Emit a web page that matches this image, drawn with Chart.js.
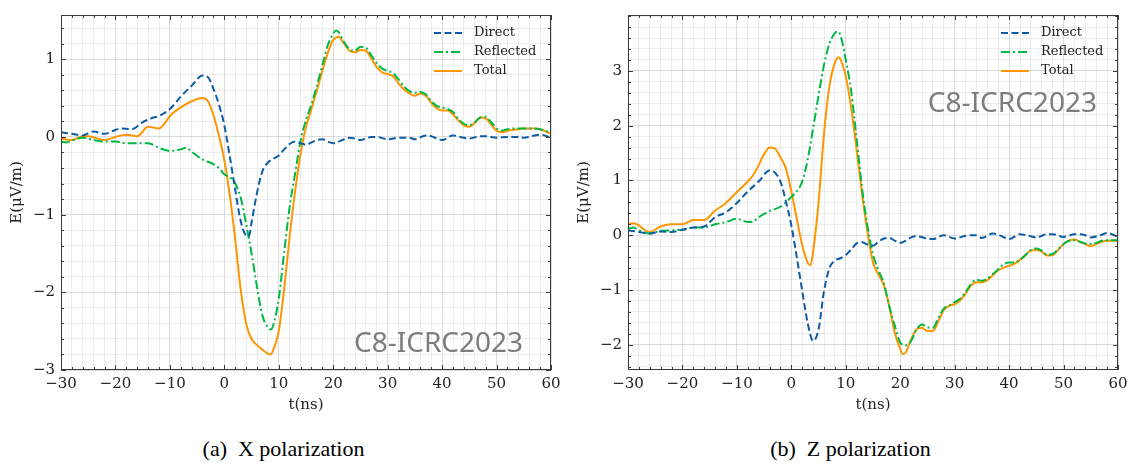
<!DOCTYPE html>
<html>
<head>
<meta charset="utf-8">
<script src="https://cdn.jsdelivr.net/npm/chart.js@4.4.1/dist/chart.umd.min.js"></script>
<style>
  html, body { margin: 0; padding: 0; background: #fff; }
  #page { position: relative; width: 1134px; height: 465px; overflow: hidden; }
  .panel { position: absolute; top: 0; width: 567px; height: 465px; }
  .panel canvas { position: absolute; left: 0; top: 0; }
  .caption { position: absolute; left: 0; top: 436px; width: 567px; text-align: center;
             font-family: "Liberation Serif", serif; font-size: 22px; line-height: 26px;
             color: #000; white-space: pre; }
</style>
</head>
<body>
<div id="page">
  <div class="panel" style="left:0">
    <canvas id="chartX" width="567" height="420"></canvas>
    <div class="caption">(a)  X polarization</div>
  </div>
  <div class="panel" style="left:567px">
    <canvas id="chartZ" width="567" height="420"></canvas>
    <div class="caption">(b)  Z polarization</div>
  </div>
</div>
<script>
// tick labels
var xMajor = [-30, -20, -10, 0, 10, 20, 30, 40, 50, 60];
var xMinorStep = 2;
var yMajorX = [-3, -2, -1, 0, 1];
var yMajorZ = [-2, -1, 0, 1, 2, 3];
var yMinorStep = 0.2;

var seriesNames = ["Direct", "Reflected", "Total"];
var seriesColors = ["#0C5DA5", "#00B945", "#FF9500"];
var seriesDash = [[7, 3.5], [9, 3, 2, 3], []];

// X polarization, E in uV/m against t in ns
var tDirX = [-30,-28,-26,-24,-22,-20,-19,-17,-15,-13,-12,-10,-8,-6,-4,-3,-2,-1,0,1,2,3,4,4.5,5,6,7,8,9,10,11,12,13,14,15,16,17,18,19,20,21,22,23,24,25,26,27,28,30,32,34,35,37,38,40,42,44,45,47,48,50,52,54,55,57,58,60];
var eDirX = [0.06,0.04,0.02,0.07,0.04,0.09,0.11,0.10,0.19,0.25,0.27,0.36,0.52,0.66,0.79,0.77,0.62,0.42,0.15,-0.25,-0.68,-1.08,-1.27,-1.28,-1.10,-0.72,-0.44,-0.33,-0.28,-0.24,-0.16,-0.09,-0.06,-0.08,-0.10,-0.07,-0.04,-0.03,-0.06,-0.08,-0.06,-0.03,-0.01,-0.02,-0.04,-0.02,0.00,0.00,-0.03,-0.01,-0.01,-0.03,0.02,0.01,-0.04,0.02,-0.01,-0.02,0.01,0.01,-0.01,0.00,0.00,-0.01,0.02,0.03,-0.01];

var tRefX = [-30,-29,-27,-26,-24,-22,-20,-18,-16,-14,-12,-10,-8,-7,-6,-4,-2,-1,0,1,2,3,4,5,6,7,8,8.5,9,10,11,12,13,14,15,16,17,18,19,20,20.5,21,22,23,24,25,26,27,28,29,30,31,32,33,34,35,36,37,38,39,40,41,42,43,44,45,46,47,48,49,50,51,52,54,55,57,58,60];
var eRefX = [-0.06,-0.07,-0.02,-0.01,-0.04,-0.06,-0.06,-0.08,-0.08,-0.08,-0.14,-0.18,-0.16,-0.14,-0.19,-0.29,-0.35,-0.40,-0.48,-0.52,-0.60,-0.78,-1.12,-1.50,-1.93,-2.30,-2.45,-2.48,-2.42,-2.08,-1.48,-0.90,-0.47,-0.05,0.22,0.42,0.66,0.92,1.18,1.33,1.37,1.35,1.22,1.13,1.11,1.16,1.15,1.05,0.95,0.88,0.85,0.82,0.74,0.65,0.59,0.57,0.58,0.55,0.46,0.40,0.38,0.36,0.32,0.23,0.17,0.15,0.19,0.25,0.26,0.19,0.11,0.08,0.10,0.11,0.11,0.11,0.10,0.05];

var tTotX = [-30,-28,-26,-25,-22,-20,-18,-16,-14,-12,-11,-10,-8,-6,-4,-3,-2,-1,0,1,2,3,4,5,6,7,8,8.5,9,10,11,12,13,14,15,16,17,18,19,20,21,22,23,24,25,26,27,28,29,30,31,32,33,34,35,36,37,38,39,40,41,42,43,44,45,46,47,48,49,50,51,52,54,55,57,58,60];
var eTotX = [-0.02,-0.04,0.01,0.01,-0.04,0.00,0.03,0.01,0.13,0.11,0.17,0.27,0.38,0.46,0.50,0.46,0.28,0.02,-0.30,-0.75,-1.32,-1.96,-2.40,-2.60,-2.68,-2.74,-2.79,-2.80,-2.74,-2.50,-1.95,-1.28,-0.70,-0.22,0.13,0.36,0.60,0.85,1.08,1.25,1.29,1.20,1.11,1.09,1.12,1.11,1.01,0.90,0.83,0.81,0.78,0.69,0.61,0.56,0.53,0.56,0.53,0.44,0.37,0.34,0.34,0.29,0.21,0.15,0.13,0.18,0.25,0.24,0.16,0.08,0.06,0.08,0.10,0.11,0.11,0.10,0.04];

// Z polarization
var tDirZ = [-30,-28,-26,-24,-22,-20,-18,-16,-14,-12,-10,-8,-6,-4,-3,-2,-1,0,1,2,3,4,5,6,7,8,9,10,11,12,13,14,15,16,17,18,19,20,21,22,23,25,26,28,30,32,34,35,37,38,40,42,44,45,47,48,50,52,54,55,57,58,60];
var eDirZ = [0.09,0.06,0.03,0.07,0.06,0.10,0.14,0.16,0.33,0.42,0.59,0.80,0.98,1.18,1.14,0.98,0.62,0.18,-0.40,-1.02,-1.60,-1.93,-1.72,-1.02,-0.60,-0.46,-0.42,-0.36,-0.26,-0.15,-0.13,-0.17,-0.19,-0.12,-0.06,-0.05,-0.10,-0.14,-0.10,-0.04,-0.02,-0.06,-0.07,0.00,-0.06,-0.01,0.00,-0.05,0.03,0.01,-0.07,0.02,-0.02,-0.04,0.02,0.02,-0.03,0.02,0.00,-0.04,0.01,0.04,-0.03];

var tRefZ = [-30,-29,-28,-26,-24,-22,-20,-18,-16,-14,-12,-10,-9,-8,-7,-6,-4,-2,-1,0,1,2,3,4,5,6,7,8,8.5,9,10,11,12,13,14,15,16,17,18,19,20,21,22,23,24,25,26,27,28,29,30,31,32,33,34,35,36,37,38,39,40,41,42,43,44,45,46,47,48,49,50,51,52,53,54,55,56,57,58,60];
var eRefZ = [0.12,0.14,0.09,0.03,0.08,0.09,0.10,0.14,0.14,0.20,0.24,0.30,0.27,0.24,0.25,0.33,0.44,0.52,0.60,0.70,0.80,0.98,1.38,1.95,2.55,3.11,3.50,3.69,3.72,3.66,3.20,2.62,1.75,0.85,0.15,-0.35,-0.64,-0.88,-1.30,-1.65,-1.96,-2.01,-1.93,-1.72,-1.63,-1.68,-1.69,-1.51,-1.34,-1.28,-1.22,-1.16,-1.04,-0.89,-0.81,-0.83,-0.79,-0.71,-0.62,-0.53,-0.50,-0.50,-0.45,-0.36,-0.27,-0.24,-0.28,-0.36,-0.34,-0.26,-0.16,-0.10,-0.09,-0.12,-0.15,-0.16,-0.14,-0.10,-0.09,-0.09];

var tTotZ = [-30,-29,-28,-27,-26,-24,-22,-20,-18,-16,-14,-12,-10,-8,-7,-6,-5,-4,-3,-2,-1,0,1,2,3,3.5,4,5,6,7,8,8.7,9,10,11,12,13,14,15,16,17,18,19,20,20.5,21,22,23,24,25,26,27,28,29,30,31,32,33,34,35,36,37,38,39,40,41,42,43,44,45,46,47,48,49,50,51,52,53,54,55,56,57,58,60];
var eTotZ = [0.20,0.22,0.18,0.10,0.06,0.16,0.20,0.20,0.28,0.28,0.45,0.59,0.79,0.98,1.10,1.28,1.48,1.60,1.58,1.42,1.22,0.80,0.30,-0.18,-0.50,-0.55,-0.30,0.60,1.85,2.72,3.15,3.25,3.22,2.90,2.32,1.55,0.75,0.05,-0.50,-0.72,-0.92,-1.30,-1.78,-2.08,-2.17,-2.14,-1.90,-1.72,-1.69,-1.75,-1.75,-1.57,-1.37,-1.29,-1.26,-1.19,-1.07,-0.92,-0.86,-0.86,-0.82,-0.73,-0.64,-0.59,-0.56,-0.52,-0.45,-0.36,-0.28,-0.27,-0.30,-0.37,-0.36,-0.27,-0.16,-0.10,-0.08,-0.12,-0.16,-0.20,-0.16,-0.12,-0.10,-0.10];

var tickFont = {family: "DejaVu Serif", size: 15};

function fmt(v) {
	return v < 0 ? "\u2212" + Math.abs(v) : String(v);
}

function isMajor(list, v) {
	for (var i = 0; i < list.length; i++) {
		if (Math.abs(list[i] - v) < 1e-6) return true;
	}
	return false;
}

function toPoints(t, v) {
	return t.map(function (x, i) { return {x: x, y: v[i]}; });
}

// minor steps, both axes, all from the scale's own range
function stepTicks(scale, step) {
	var ticks = [];
	var v = Math.ceil(scale.min / step - 1e-9) * step;
	for (; v <= scale.max + 1e-9; v += step) {
		ticks.push({value: Math.round(v * 1000) / 1000});
	}
	scale.ticks = ticks;
}

// frame, inward ticks on four sides, legend and watermark
var decorPlugin = {
	id: "decor",
	afterDraw: function (chart, args, opts) {
		var ctx = chart.ctx, a = chart.chartArea;
		var xs = chart.scales.x, ys = chart.scales.y;
		ctx.save();
		ctx.strokeStyle = "#3a3a3a";
		ctx.lineWidth = 1;
		ctx.beginPath();
		xs.ticks.forEach(function (t) {
			var px = Math.round(xs.getPixelForValue(t.value)) + 0.5;
			var len = isMajor(xMajor, t.value) ? 5 : 3;
			ctx.moveTo(px, a.bottom); ctx.lineTo(px, a.bottom - len);
			ctx.moveTo(px, a.top); ctx.lineTo(px, a.top + len);
		});
		ys.ticks.forEach(function (t) {
			var py = Math.round(ys.getPixelForValue(t.value)) + 0.5;
			var len = isMajor(opts.yMajor, t.value) ? 5 : 3;
			ctx.moveTo(a.left, py); ctx.lineTo(a.left + len, py);
			ctx.moveTo(a.right, py); ctx.lineTo(a.right - len, py);
		});
		ctx.stroke();
		ctx.strokeRect(a.left + 0.5, a.top + 0.5, a.right - a.left - 1, a.bottom - a.top - 1);

		// watermark
		ctx.font = '28px "Noto Sans"';
		ctx.fillStyle = "#7d7d7d";
		ctx.textAlign = "right";
		ctx.textBaseline = "alphabetic";
		ctx.fillText(opts.mark, a.left + opts.markX * (a.right - a.left), a.top + opts.markY * (a.bottom - a.top));

		// legend
		ctx.font = '13px "DejaVu Serif"';
		ctx.textAlign = "left";
		ctx.textBaseline = "middle";
		chart.data.datasets.forEach(function (ds, i) {
			var y = a.top + 18 + i * 19;
			ctx.strokeStyle = ds.borderColor;
			ctx.lineWidth = ds.borderWidth;
			ctx.setLineDash(ds.borderDash);
			ctx.beginPath();
			ctx.moveTo(a.right - 117, y);
			ctx.lineTo(a.right - 89, y);
			ctx.stroke();
			ctx.setLineDash([]);
			ctx.fillStyle = "#222";
			ctx.fillText(ds.label, a.right - 77, y);
		});
		ctx.restore();
	}
};

function drawPanel(canvasId, times, values, yMin, yMax, yMajor, mark) {
	var datasets = seriesNames.map(function (name, i) {
		return {
			label: name,
			data: toPoints(times[i], values[i]),
			borderColor: seriesColors[i],
			borderDash: seriesDash[i],
			borderWidth: 2,
			pointRadius: 0,
			fill: false,
			cubicInterpolationMode: "monotone"
		};
	});

	new Chart(document.getElementById(canvasId).getContext("2d"), {
		type: "line",
		data: {datasets: datasets},
		plugins: [decorPlugin],
		options: {
			responsive: false,
			animation: false,
			events: [],
			layout: {padding: {left: 0, right: 16, top: 7, bottom: 0}},
			plugins: {
				legend: {display: false},
				tooltip: {enabled: false},
				decor: {yMajor: yMajor, mark: mark.text, markX: mark.x, markY: mark.y}
			},
			scales: {
				x: {
					type: "linear",
					min: -30,
					max: 60,
					afterBuildTicks: function (s) { stepTicks(s, xMinorStep); },
					afterFit: function (s) { s.height = 50; },
					ticks: {
						autoSkip: false,
						maxRotation: 0,
						padding: 5,
						color: "#222",
						font: tickFont,
						callback: function (v) { return isMajor(xMajor, v) ? fmt(v) : ""; }
					},
					grid: {
						drawTicks: false,
						color: function (c) { return c.tick && isMajor(xMajor, c.tick.value) ? "rgba(0,0,0,0.13)" : "rgba(0,0,0,0.07)"; }
					},
					border: {display: false},
					title: {display: true, text: "t(ns)", color: "#222", font: tickFont, padding: {top: 0, bottom: 6}}
				},
				y: {
					min: yMin,
					max: yMax,
					afterBuildTicks: function (s) { stepTicks(s, yMinorStep); },
					afterFit: function (s) { s.width = 61; },
					ticks: {
						autoSkip: false,
						padding: 6,
						color: "#222",
						font: tickFont,
						callback: function (v) { return isMajor(yMajor, v) ? fmt(Math.round(v)) : ""; }
					},
					grid: {
						drawTicks: false,
						color: function (c) { return c.tick && isMajor(yMajor, c.tick.value) ? "rgba(0,0,0,0.13)" : "rgba(0,0,0,0.07)"; }
					},
					border: {display: false},
					title: {display: true, text: "E(\u03bcV/m)", color: "#222", font: tickFont, padding: {top: 8, bottom: 0}}
				}
			}
		}
	});
}

drawPanel("chartX", [tDirX, tRefX, tTotX], [eDirX, eRefX, eTotX], -3.0, 1.57, yMajorX,
	{text: "C8-ICRC2023", x: 0.943, y: 0.948});
drawPanel("chartZ", [tDirZ, tRefZ, tTotZ], [eDirZ, eRefZ, eTotZ], -2.46, 4.02, yMajorZ,
	{text: "C8-ICRC2023", x: 0.957, y: 0.273});
</script>
</body>
</html>
